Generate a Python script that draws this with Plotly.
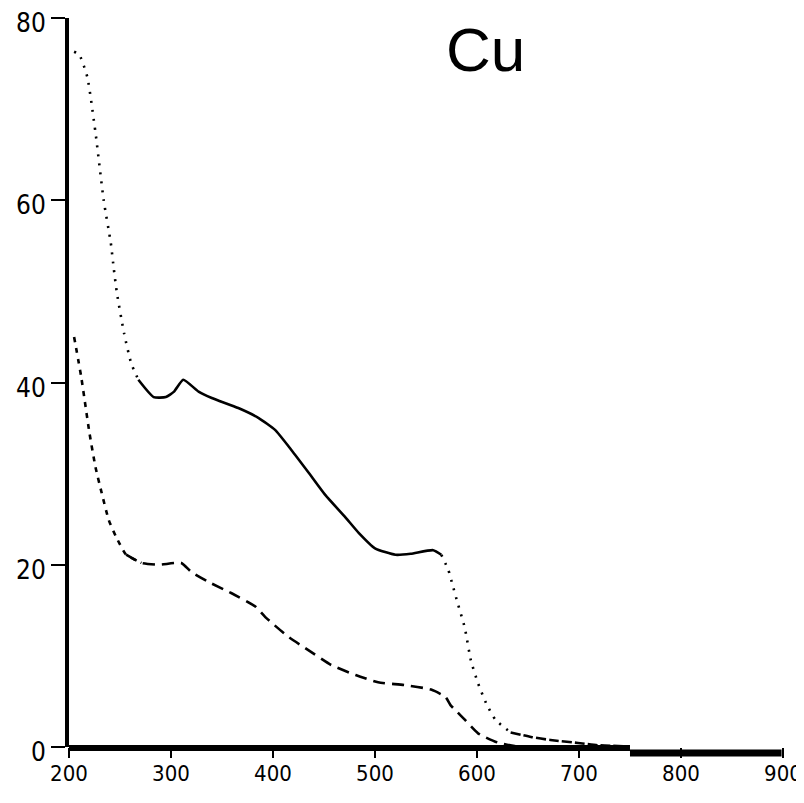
import plotly.graph_objects as go

# ---- data ----
upper_wl = [205, 210, 218, 226, 234, 241, 244, 247, 254, 261, 268, 283, 295, 303, 312,
            327, 340, 366, 386, 402, 418, 435, 451, 471, 484, 500, 520, 535, 557, 565,
            572, 576, 581, 588, 594, 601, 609, 618, 633, 653, 672, 699, 718, 750]
upper_abs = [76.3, 76.0, 73.5, 67.4, 60.0, 55.3, 52.4, 49.8, 45.4, 42.1, 40.3, 38.4, 38.4, 39.0, 40.3,
             39.0, 38.3, 37.2, 36.1, 34.8, 32.6, 30.1, 27.7, 25.2, 23.5, 21.8, 21.1, 21.2, 21.6, 21.1,
             19.4, 17.8, 15.8, 13.1, 9.5, 7.0, 4.8, 3.0, 1.6, 1.1, 0.77, 0.44, 0.2, 0.05]

lower_wl = [205, 212, 220, 226, 232, 239, 246, 256, 271, 288, 310, 320, 337, 359, 383,
            393, 415, 435, 457, 481, 503, 529, 555, 569, 574, 581, 588, 601, 620, 637, 660]
lower_abs = [45.0, 40.6, 34.5, 30.7, 27.9, 24.9, 23.1, 21.1, 20.2, 20.0, 20.2, 19.2, 18.1, 16.9, 15.4,
             14.2, 12.1, 10.6, 9.0, 7.9, 7.1, 6.8, 6.3, 5.5, 4.6, 3.8, 3.0, 1.5, 0.5, 0.1, 0.0]

x_ticks = [200, 300, 400, 500, 600, 700, 800, 900]
x_ticklabels = ["200", "300", "400", "500", "600", "700", "800", "900"]
y_ticks = [0, 20, 40, 60, 80]
y_ticklabels = ["0", "20", "40", "60", "80"]
title_text = "Cu"

# pen-plotter look: steep parts are dotted, flat parts solid
upper_segments = [(0, 10, "2px,7px"), (10, 29, "solid"), (29, 38, "2px,7px"), (38, 43, "10px,3px")]
lower_segments = [(0, 8, "5px,6px"), (7, 30, "12px,7px")]

fig = go.Figure()
for a, b, dash in upper_segments:
    fig.add_trace(go.Scatter(x=upper_wl[a:b + 1], y=upper_abs[a:b + 1], mode="lines",
                             line=dict(color="black", width=2.6, dash=dash, shape="spline", smoothing=0.5),
                             showlegend=False, hoverinfo="skip"))
for a, b, dash in lower_segments:
    fig.add_trace(go.Scatter(x=lower_wl[a:b + 1], y=lower_abs[a:b + 1], mode="lines",
                             line=dict(color="black", width=2.6, dash=dash, shape="spline", smoothing=0.5),
                             showlegend=False, hoverinfo="skip"))

font_family = "Liberation Sans Narrow, DejaVu Sans Condensed, sans-serif"
x_tick_font = dict(family=font_family, size=22, color="black")
y_tick_font = dict(family=font_family, size=26, color="black")

# page body has an 8px margin, so the figure is 8px smaller and margins shifted
fig.update_layout(
    width=796, height=795,
    margin=dict(l=61, r=21, t=10, b=56),
    paper_bgcolor="white", plot_bgcolor="white",
    xaxis=dict(range=[200, 900], tickvals=x_ticks, ticktext=x_ticklabels, automargin=False,
               showgrid=False, zeroline=False, showline=False,
               ticks="outside", ticklen=10, tickwidth=1.5, tickcolor="black", ticklabelstandoff=-3,
               ticklabeloverflow="allow", tickfont=x_tick_font, fixedrange=True),
    yaxis=dict(range=[0, 80], tickvals=y_ticks, ticktext=y_ticklabels, automargin=False,
               showgrid=False, zeroline=False, showline=True, linecolor="black", linewidth=4,
               ticks="outside", ticklen=14, tickwidth=2, tickcolor="black", ticklabelshift=5,
               ticklabeloverflow="allow", tickfont=y_tick_font, fixedrange=True),
    annotations=[dict(text=title_text, xref="paper", yref="paper", x=0.584, y=0.957,
                      showarrow=False, font=dict(family="Liberation Sans, Arial, sans-serif", size=62, color="black"),
                      xanchor="center", yanchor="middle")],
    shapes=[
        # x-axis baseline drawn as two plotter strokes (step at 750)
        dict(type="line", xref="paper", yref="paper", x0=0.0, x1=0.7857, y0=-0.0014, y1=-0.0014,
             line=dict(color="black", width=6)),
        dict(type="line", xref="paper", yref="paper", x0=0.7857, x1=0.998, y0=-0.0082, y1=-0.0082,
             line=dict(color="black", width=7)),
    ],
)

fig.write_html("out.html")
